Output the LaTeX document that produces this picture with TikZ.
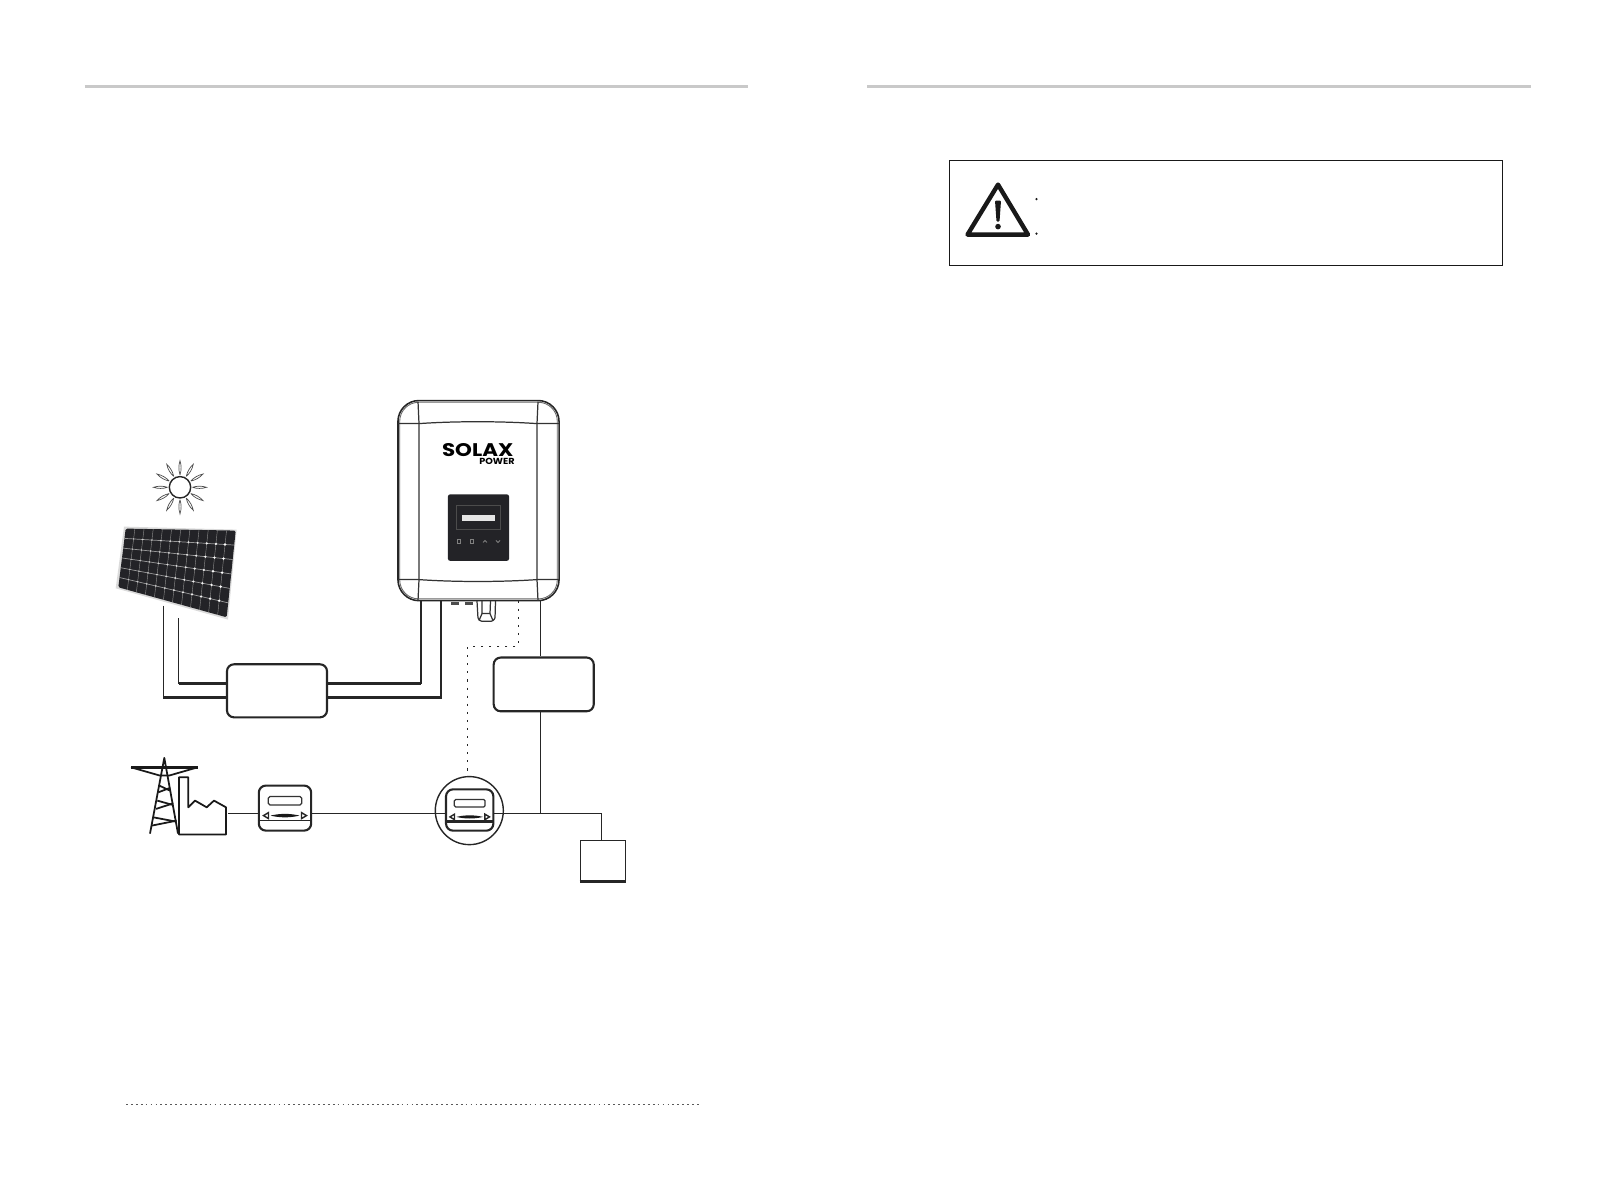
\documentclass[tikz,border=0pt]{standalone}
\usepackage{fontspec}
\usetikzlibrary{calc}
\newfontfamily\logofont{Poppins}
\definecolor{cellblack}{HTML}{232327}
\definecolor{rulegray}{HTML}{C9C9C9}
\tikzset{
  wirethin/.style={line width=0.4pt, black!85},
  wirethick/.style={line width=0.7pt, black!85},
  blockbox/.style={draw=black!85, line width=0.6pt, rounded corners=0.07cm, minimum width=1cm, minimum height=0.53cm, inner sep=0pt},
  meterbox/.style={draw=black!85, line width=0.6pt, rounded corners=0.07cm, inner sep=0pt},
  caseline/.style={line width=0.35pt, black!80},
  towerline/.style={line width=0.5pt, black!90, line join=round}
}
\begin{document}
\begin{tikzpicture}[x=0.01cm,y=-0.01cm]
\useasboundingbox (0,-0.6) rectangle (1616,1190.4);

% Page rules
\draw[rulegray, line width=0.9pt] (84.5,86) -- (748,86);
\draw[rulegray, line width=0.9pt] (867,86) -- (1531,86);
\draw[black!65, line width=0.4pt, dash pattern=on 0.5pt off 0.9pt] (126,1104) -- (701,1104);

% Warning box
\node[draw=black!90, line width=0.3pt, minimum width=5.53cm, minimum height=1.055cm, inner sep=0pt] (warnbox) at (1226.2,212.5) {};
\draw[black!90, line width=1.25pt, line join=round] (998,184) -- (1028,234) -- (967.5,234) -- cycle;
\fill[black!90, rounded corners=0.01cm] (995,200) -- (1001,200) -- (999.5,221) -- (996.5,221) -- cycle;
\fill[black!90] (998,226) circle (2.8);
\foreach \y in {198.5,233} {
  \fill[black!90] (1036.5,\y) circle (1.2);
}

% Sun
\coordinate (sun) at (180,486.7);
\draw[line width=0.4pt, black!85] (sun) circle (10.7);
\foreach \a in {0,30,...,330} {
  \draw[line width=0.2pt, black!70, shift={(sun)}, rotate=\a] (12.5,0) .. controls (17,1.5) and (22,1.5) .. (26.5,0) .. controls (22,-1.5) and (17,-1.5) .. (12.5,0);
}

% PV panel
\coordinate (pvA) at (125.7,528);
\coordinate (pvB) at (235.7,530);
\coordinate (pvC) at (226.7,616.7);
\coordinate (pvD) at (118.3,586.7);
\fill[black!14] (124,526) -- (236.7,529) -- (228,619) -- (115.7,587.7) -- cycle;
\fill[cellblack, rounded corners=0.015cm] (pvA) -- (pvB) -- (pvC) -- (pvD) -- cycle;
\foreach \u in {1,...,11} {
  \draw[black!45, line width=0.12pt] ($(pvA)!\u/12!(pvB)$) -- ($(pvD)!\u/12!(pvC)$);
}
\foreach \v in {1,...,5} {
  \draw[black!40, line width=0.2pt] ($(pvA)!\v/6!(pvD)$) -- ($(pvB)!\v/6!(pvC)$);
  \foreach \u in {1,...,11} {
    \fill[white, opacity=0.4+0.055*\u] ($($(pvA)!\u/12!(pvB)$)!\v/6!($(pvD)!\u/12!(pvC)$)$) circle (0.8+0.05*\u);
  }
}

% Inverter
\node[draw=black!85, line width=0.45pt, rounded corners=0.21cm, minimum width=1.61cm, minimum height=2cm, inner sep=0pt] (inverter) at (478.5,500) {};
\node[draw=black!60, line width=0.25pt, rounded corners=0.19cm, minimum width=1.575cm, minimum height=1.965cm, inner sep=0pt] (invinner) at (inverter.center) {};
\draw[caseline] (398,423) -- (419,423) .. controls (455,420.5) and (500,420.5) .. (537,423) -- (559,423);
\draw[caseline] (398,579) -- (419,579) .. controls (455,581.5) and (500,581.5) .. (537,579) -- (559,579);
\draw[caseline] (418,401) -- (419,423) -- (419,579) -- (418,600);
\draw[caseline] (538,401) -- (537,423) -- (537,579) -- (538,600);
\node[font=\logofont\bfseries\fontsize{5.2}{5}\selectfont, inner sep=0pt, xscale=1.17] (logomain) at (477.7,449.5) {SOLAX};
\node[font=\logofont\bfseries\fontsize{2.5}{3}\selectfont, inner sep=0pt, xscale=1.1] (logosub) at (497,460.5) {POWER};

% Display
\node[fill=cellblack, rounded corners=0.02cm, minimum width=0.61cm, minimum height=0.663cm, inner sep=0pt] (display) at (478.5,527) {};
\draw[black!70, line width=0.2pt] (456,505) rectangle (500.7,529);
\fill[black!10] (461.7,514) rectangle (495,520.7);
\foreach \x in {458.7,472} {
  \draw[black!50, line width=0.25pt] (\x-1.7,539) rectangle (\x+1.7,542.5);
}
\draw[black!50, line width=0.25pt] (483,541.8) -- (485,539.8) -- (487,541.8);
\draw[black!50, line width=0.25pt] (496,539.8) -- (498,541.8) -- (500,539.8);

% Connectors under the inverter
\foreach \x in {450.7,464.7} {
  \fill[black!70] (\x,601) rectangle (\x+8.3,604);
}
\draw[caseline, rounded corners=0.01cm] (477,600.5) -- (478,618) -- (481,620.7) -- (492,620.7) -- (495,618) -- (495.5,600.5);
\draw[caseline] (482,600.5) -- (482,613) -- (490,613) -- (490.5,600.5);
\draw[caseline] (482,613) -- (479,620);
\draw[caseline] (490,613) -- (493,620);

% Blocks
\node[blockbox] (dcswitch) at (277,690.2) {};
\node[blockbox, minimum height=0.537cm] (epsbox) at (543.7,683.8) {};
\node[draw=black!85, line width=0.4pt, minimum width=0.454cm, minimum height=0.4cm, inner sep=0pt] (loadbox) at (603,860) {};
\draw[black!85, line width=0.7pt] (loadbox.south west) -- (loadbox.south east);

% PV wiring
\coordinate (pvplus) at (178.7,617.7);
\coordinate (pvminus) at (163.3,605);
\coordinate (invplus) at (421,600);
\coordinate (invminus) at (441,600);
\draw[wirethin] (pvplus) -- (178.7,683);
\draw[wirethick] (178.7,683) -- (dcswitch.west |- 0,683);
\draw[wirethin] (pvminus) -- (163.3,697);
\draw[wirethick] (163.3,697) -- (dcswitch.west |- 0,697);
\draw[wirethick] (dcswitch.east |- 0,683) -- (421,683);
\draw[wirethin] (421,683) -- (invplus);
\draw[wirethick] (dcswitch.east |- 0,697) -- (441,697) -- (invminus);

% Grid and factory
\draw[towerline] (150,833) -- (164.3,757.3) -- (178,833);
\draw[towerline, line width=0.9pt] (131,766.7) -- (197.7,766.7);
\draw[towerline] (131,766.7) -- (160,775) -- (169,775) -- (197.7,766.7);
\draw[towerline] (158.3,791.7) -- (170,787.3);
\draw[towerline] (159.3,785) -- (170,790);
\draw[towerline] (157.3,800) -- (172.7,804.3);
\draw[towerline] (156,808.3) -- (173.3,802.7);
\draw[towerline] (153.3,816.7) -- (176,821);
\draw[towerline] (151.7,825) -- (176.7,820);
\draw[towerline] (179,776.7) -- (188.3,776.7) -- (188.3,806.7) -- (195,800) -- (206.7,806.7) -- (214,800) -- (226,806.7) -- (226,834) -- (179,834) -- cycle;
\coordinate (factory) at (228.3,813);

% Meters
\node[meterbox, minimum width=0.523cm, minimum height=0.45cm] (meterA) at (285,807.5) {};
\node[meterbox, minimum width=0.473cm, minimum height=0.413cm] (meterB) at (469.7,809.4) {};
\node[draw=black!85, line width=0.4pt, circle, minimum size=0.68cm, inner sep=0pt] (meterring) at (469.3,810) {};
\foreach \m/\s/\lw in {meterA/1/0.45pt, meterB/0.92/0.8pt} {
  \begin{scope}[shift={(\m.center)}, scale=\s]
    \draw[black!80, line width=0.35pt, rounded corners=0.015cm] (-16.7,-11.5) rectangle (16.7,-3.2);
    \draw[black!85, line width=0.4pt] (-21.5,7.5) -- (-16.5,4.5) -- (-16.5,10.5) -- cycle;
    \draw[black!85, line width=0.4pt] (21.5,7.5) -- (16.5,4.5) -- (16.5,10.5) -- cycle;
    \fill[black!90] (-14.5,7.5) .. controls (-5,5.2) and (5,5.2) .. (14.5,7.5) .. controls (5,9.8) and (-5,9.8) .. (-14.5,7.5);
    \draw[black!85, line width=\lw] (\m.west |- 0,12.5) -- (\m.east |- 0,12.5);
  \end{scope}
}

% AC wiring
\coordinate (epsjoin) at (540.3,813);
\coordinate (loadjoin) at (601.7,813);
\coordinate (invac) at (540.3,600);
\coordinate (invcom) at (518.3,600);
\draw[wirethin] (factory) -- (meterA.west |- factory);
\draw[wirethin] (meterA.east |- factory) -- (meterB.west |- factory);
\draw[wirethin] (meterB.east |- loadjoin) -- (loadjoin) -- (loadbox.north -| loadjoin);
\draw[wirethin] (invac) -- (epsbox.north -| invac);
\draw[wirethin] (epsbox.south -| invac) -- (epsjoin);
\draw[black!85, line width=0.35pt, dash pattern=on 0.6pt off 1.7pt] (invcom) -- (518.3,645.7) -- (467.7,645.7) -- (467.7,773.3);
\end{tikzpicture}
\end{document}
